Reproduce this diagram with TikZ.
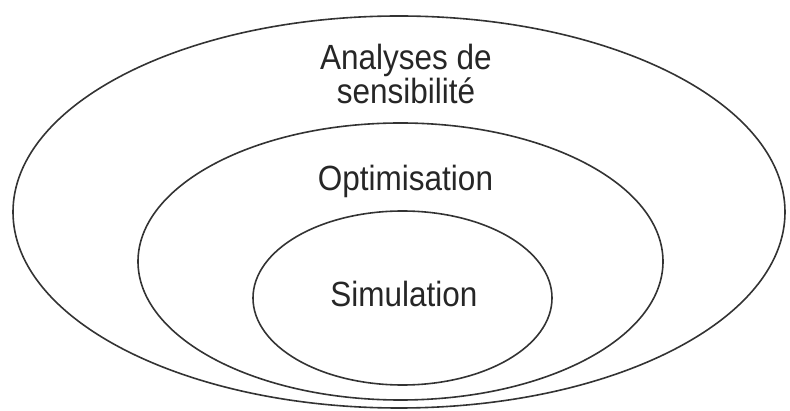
\documentclass[tikz,border=0pt]{standalone}
\usepackage{fontspec}
\setmainfont{Liberation Sans}
\begin{document}
\begin{tikzpicture}[x=1pt,y=-1pt,
  ring/.style={draw=black!80,line width=1.6pt},
  label/.style={text=black!85,font=\fontsize{35}{34}\selectfont,align=center,anchor=base,inner sep=0pt,xscale=0.9}]
\useasboundingbox (0,0) rectangle (790,411);
\draw[ring] (399,212) ellipse [x radius=386pt, y radius=196pt];
\draw[ring] (400.5,261.5) ellipse [x radius=262.5pt, y radius=138.5pt];
\draw[ring] (402.5,298) ellipse [x radius=149.5pt, y radius=87pt];
\node[label] (ana) at (406,104) {Analyses de\\sensibilité};
\node[label] (opt) at (405.5,191) {Optimisation};
\node[label] (sim) at (404,307) {Simulation};
\end{tikzpicture}
\end{document}
